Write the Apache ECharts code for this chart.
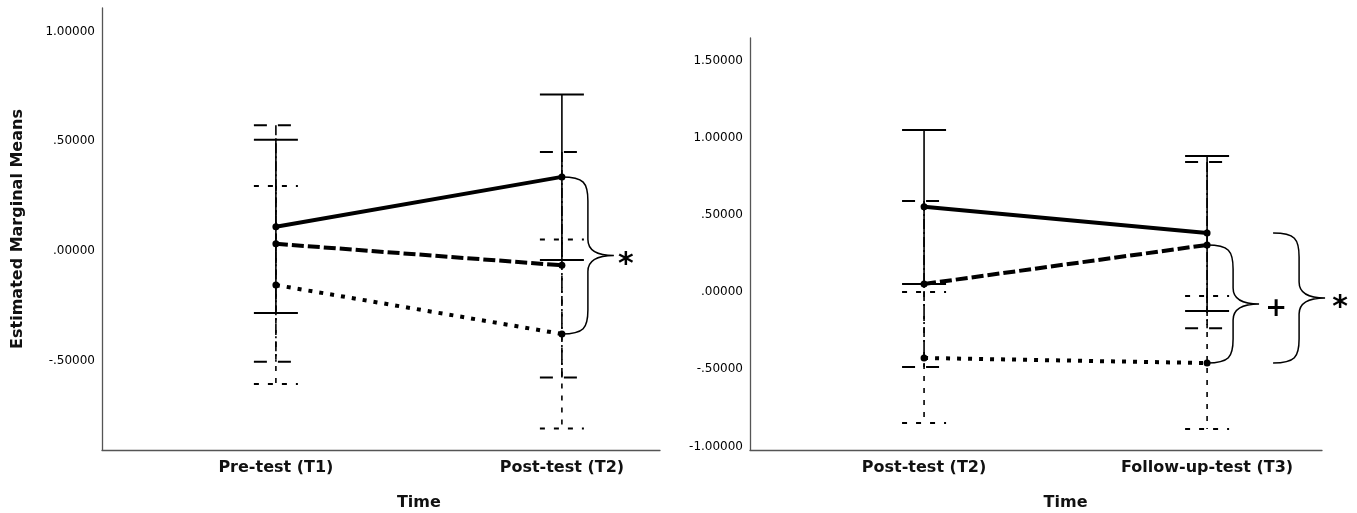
<!DOCTYPE html>
<html>
<head>
<meta charset="utf-8">
<script src="https://cdn.jsdelivr.net/npm/echarts@6/dist/echarts.min.js"></script>
<style>
  html, body { margin: 0; padding: 0; background: #fff; }
  #main { width: 1357px; height: 513px; }
</style>
</head>
<body>
<div id="main"></div>
<script>
// categories (x positions 1 and 2 on each panel)
var leftCats = ['Pre-test (T1)', 'Post-test (T2)'];
var rightCats = ['Post-test (T2)', 'Follow-up-test (T3)'];
var catX = [1, 2];

// left panel: estimated marginal means and error bar bounds
var solidL = [0.111, 0.338];
var solidLLow = [-0.282, -0.041];
var solidLHigh = [0.507, 0.714];
var dashedL = [0.033, -0.065];
var dashedLLow = [-0.505, -0.577];
var dashedLHigh = [0.573, 0.451];
var dottedL = [-0.155, -0.378];
var dottedLLow = [-0.606, -0.809];
var dottedLHigh = [0.296, 0.053];

// right panel
var solidR = [0.552, 0.382];
var solidRLow = [0.052, -0.123];
var solidRHigh = [1.049, 0.881];
var dashedR = [0.052, 0.305];
var dashedRLow = [-0.486, -0.234];
var dashedRHigh = [0.589, 0.842];
var dottedR = [-0.427, -0.460];
var dottedRLow = [-0.848, -0.887];
var dottedRHigh = [0.000, -0.026];

// tick labels
var leftTicks = [-0.5, 0, 0.5, 1];
var rightTicks = [-1, -0.5, 0, 0.5, 1, 1.5];

var FONT = 'DejaVu Sans';
var chart = echarts.init(document.getElementById('main'));

function fmtTick(v) {
  return v.toFixed(5).replace(/^(-?)0\./, '$1.');
}

function pairs(ys) {
  return catX.map(function (x, i) { return [x, ys[i]]; });
}

function bars(lo, hi) {
  return catX.map(function (x, i) { return [x, lo[i], hi[i]]; });
}

// error bars: vertical line + caps, dash style per group
function errorBars(idx, data, vDash, capDash) {
  return {
    type: 'custom',
    xAxisIndex: idx,
    yAxisIndex: idx,
    z: 2,
    silent: true,
    encode: { x: 0, y: [1, 2] },
    data: data,
    renderItem: function (params, api) {
      var x = api.value(0);
      var top = api.coord([x, api.value(2)]);
      var bot = api.coord([x, api.value(1)]);
      var hw = 22;
      return {
        type: 'group',
        children: [
          { type: 'line', shape: { x1: top[0], y1: top[1], x2: bot[0], y2: bot[1] },
            style: { stroke: '#000', lineWidth: 1.6, lineDash: vDash } },
          { type: 'line', shape: { x1: top[0] - hw, y1: top[1], x2: top[0] + hw, y2: top[1] },
            style: { stroke: '#000', lineWidth: 2, lineDash: capDash } },
          { type: 'line', shape: { x1: bot[0] - hw, y1: bot[1], x2: bot[0] + hw, y2: bot[1] },
            style: { stroke: '#000', lineWidth: 2, lineDash: capDash } }
        ]
      };
    }
  };
}

function meanLine(idx, ys, dash) {
  return {
    type: 'line',
    xAxisIndex: idx,
    yAxisIndex: idx,
    z: 3,
    data: pairs(ys),
    symbol: 'circle',
    symbolSize: 7,
    itemStyle: { color: '#000' },
    lineStyle: { color: '#000', width: 4, type: dash || 'solid', cap: 'butt' }
  };
}

// curly brace between two means at x = 2, with a significance mark
function brace(idx, yTop, yBot, offset, mark, markFont, markDx, markDy) {
  return {
    type: 'custom',
    xAxisIndex: idx,
    yAxisIndex: idx,
    z: 4,
    silent: true,
    data: [[catX[1], yTop, yBot]],
    renderItem: function (params, api) {
      var a = api.coord([api.value(0), api.value(1)]);
      var b = api.coord([api.value(0), api.value(2)]);
      var x0 = a[0] + offset, yt = a[1], yb = b[1];
      var ym = (yt + yb) / 2;
      var xb = x0 + 26, xt = x0 + 52;
      var d = 'M' + x0 + ' ' + yt +
        ' C' + (x0 + 22) + ' ' + yt + ' ' + xb + ' ' + (yt + 6) + ' ' + xb + ' ' + (yt + 24) +
        ' L' + xb + ' ' + (ym - 16) +
        ' C' + xb + ' ' + (ym - 4) + ' ' + (xb + 10) + ' ' + ym + ' ' + xt + ' ' + ym +
        ' M' + xt + ' ' + ym +
        ' C' + (xb + 10) + ' ' + ym + ' ' + xb + ' ' + (ym + 4) + ' ' + xb + ' ' + (ym + 16) +
        ' L' + xb + ' ' + (yb - 24) +
        ' C' + xb + ' ' + (yb - 6) + ' ' + (x0 + 22) + ' ' + yb + ' ' + x0 + ' ' + yb;
      return {
        type: 'group',
        children: [
          { type: 'path', shape: { pathData: d },
            style: { stroke: '#000', fill: null, lineWidth: 1.5 } },
          { type: 'text', x: xt + markDx, y: ym + markDy,
            style: { text: mark, fill: '#000', font: markFont,
                     align: 'center', verticalAlign: 'middle' } }
        ]
      };
    }
  };
}

function xAxis(idx, cats, min, max) {
  return {
    type: 'value',
    gridIndex: idx,
    min: min,
    max: max,
    splitLine: { show: false },
    axisTick: { show: false },
    axisLine: { show: true, onZero: false, lineStyle: { color: '#555', width: 1.3 } },
    axisLabel: {
      customValues: catX,
      margin: 10,
      color: '#111',
      fontFamily: FONT,
      fontWeight: 'bold',
      fontSize: 16,
      formatter: function (v) { return cats[Math.round(v) - 1] || ''; }
    }
  };
}

function yAxis(idx, ticks, min, max) {
  return {
    type: 'value',
    gridIndex: idx,
    min: min,
    max: max,
    splitLine: { show: false },
    axisTick: { show: false },
    axisLine: { show: true, onZero: false, lineStyle: { color: '#555', width: 1.3 } },
    axisLabel: {
      customValues: ticks,
      margin: 7,
      color: '#000',
      fontFamily: FONT,
      fontSize: 12,
      formatter: fmtTick
    }
  };
}

var starFont = 'bold 30px "' + FONT + '"';
var plusFont = 'bold 26px "' + FONT + '"';

var option = {
  animation: false,
  backgroundColor: '#fff',
  grid: [
    { left: 102, top: 8, width: 558, height: 442 },
    { left: 750, top: 38, width: 572, height: 412 }
  ],
  xAxis: [
    xAxis(0, leftCats, 0.392, 2.343),
    xAxis(1, rightCats, 0.385, 2.406)
  ],
  yAxis: [
    yAxis(0, leftTicks, -0.907, 1.108),
    yAxis(1, rightTicks, -1.023, 1.645)
  ],
  series: [
    errorBars(0, bars(dottedLLow, dottedLHigh), [5, 7], [5, 9]),
    errorBars(0, bars(dashedLLow, dashedLHigh), [10, 3, 2, 3], [13, 11]),
    errorBars(0, bars(solidLLow, solidLHigh), null, null),
    meanLine(0, dottedL, [4, 7]),
    meanLine(0, dashedL, [12, 4]),
    meanLine(0, solidL),
    brace(0, solidL[1], dottedL[1], 0, '*', starFont, 12, 10),

    errorBars(1, bars(dottedRLow, dottedRHigh), [5, 7], [5, 9]),
    errorBars(1, bars(dashedRLow, dashedRHigh), [10, 3, 2, 3], [13, 11]),
    errorBars(1, bars(solidRLow, solidRHigh), null, null),
    meanLine(1, dottedR, [4, 7]),
    meanLine(1, dashedR, [12, 4]),
    meanLine(1, solidR),
    brace(1, dashedR[1], dottedR[1], 0, '+', plusFont, 17, 5),
    brace(1, solidR[1], dottedR[1], 66, '*', starFont, 15, 10)
  ]
};

chart.setOption(option);

// axis titles: "Time" centred between the two time points of each panel
var tl = chart.convertToPixel({ gridIndex: 0 }, [1.5, 0]);
var tr = chart.convertToPixel({ gridIndex: 1 }, [1.5, 0]);
var titleFont = 'bold 16px "' + FONT + '"';
chart.setOption({
  graphic: [
    { type: 'text', x: 18, y: 229, rotation: Math.PI / 2,
      style: { text: 'Estimated Marginal Means', font: titleFont, fill: '#111',
               align: 'center', verticalAlign: 'middle' } },
    { type: 'text', x: tl[0], y: 503,
      style: { text: 'Time', font: titleFont, fill: '#111', align: 'center', verticalAlign: 'middle' } },
    { type: 'text', x: tr[0], y: 503,
      style: { text: 'Time', font: titleFont, fill: '#111', align: 'center', verticalAlign: 'middle' } }
  ]
});
</script>
</body>
</html>
